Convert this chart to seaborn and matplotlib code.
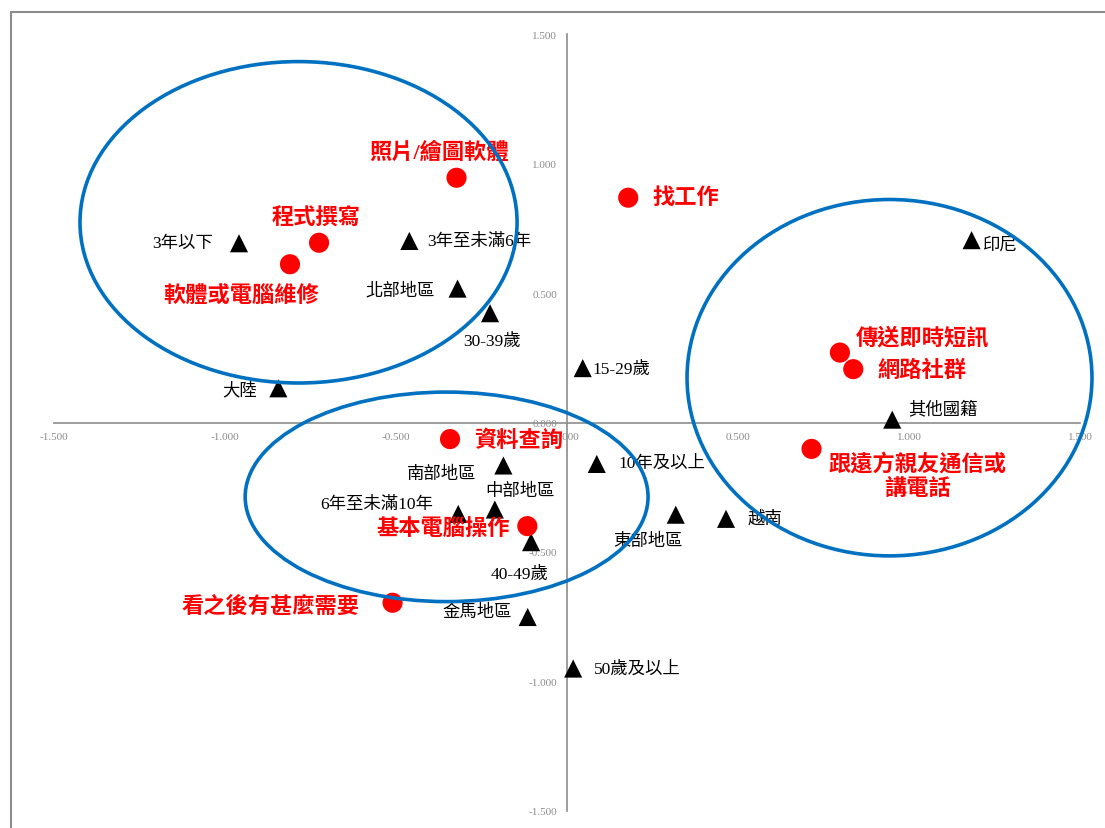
import matplotlib
matplotlib.use("Agg")
import pandas as pd
import matplotlib.pyplot as plt
from matplotlib.patches import Ellipse
from matplotlib.lines import Line2D
import seaborn as sns

# ==========================
# Data
# ==========================

# activities (red circles)
act_names = ["照片/繪圖軟體", "程式撰寫", "軟體或電腦維修", "找工作", "傳送即時短訊",
             "網路社群", "跟遠方親友通信或\n講電話", "資料查詢", "基本電腦操作", "看之後有甚麼需要"]
act_x = [-0.323, -0.725, -0.810, 0.179, 0.798, 0.837, 0.715, -0.342, -0.116, -0.510]
act_y = [0.945, 0.694, 0.611, 0.868, 0.270, 0.206, -0.102, -0.064, -0.400, -0.696]

# respondent groups (black triangles)
grp_names = ["3年以下", "3年至未滿6年", "北部地區", "30-39歲", "大陸", "15-29歲", "印尼",
             "其他國籍", "10年及以上", "東部地區", "越南", "南部地區", "中部地區",
             "6年至未滿10年", "40-49歲", "金馬地區", "50歲及以上"]
grp_x = [-0.959, -0.461, -0.320, -0.225, -0.844, 0.046, 1.183, 0.951, 0.087, 0.318,
         0.465, -0.186, -0.211, -0.318, -0.105, -0.115, 0.018]
grp_y = [0.692, 0.701, 0.517, 0.422, 0.132, 0.210, 0.704, 0.011, -0.160, -0.356,
         -0.372, -0.166, -0.336, -0.353, -0.462, -0.751, -0.950]

ticks = [-1.5, -1.0, -0.5, 0.0, 0.5, 1.0, 1.5]

# label placement: (dx px, dy px down, ha)
act_pos = [(-17, -26, "center"), (-3, -25, "center"), (-49, 32, "center"), (24, 0, "left"),
           (16, -15, "left"), (24, 1, "left"), (106, 27, "center"), (24, 1, "left"),
           (-17, 3, "right"), (-33, 3, "right")]
grp_pos = [(-26, 0, "right"), (18, 0, "left"), (-23, 2, "right"), (2, 28, "center"),
           (-21, 2, "right"), (10, 1, "left"), (10, 4, "left"), (16, -11, "left"),
           (22, -1, "left"), (-28, 26, "center"), (22, 0, "left"), (-27, 8, "right"),
           (-10, -19, "left"), (-25, -10, "right"), (-12, 32, "center"), (-16, -5, "right"),
           (21, 0, "left")]

# cluster ellipses: (cx, cy, width, height)
clusters = [(-0.785, 0.773, 1.278, 1.241),
            (-0.352, -0.287, 1.178, 0.809),
            (0.943, 0.173, 1.184, 1.376)]

act_df = pd.DataFrame({"x": act_x, "y": act_y, "name": act_names})
grp_df = pd.DataFrame({"x": grp_x, "y": grp_y, "name": grp_names})

# ==========================
# Plot
# ==========================

sns.set_style("white")
plt.rcParams["font.family"] = ["Liberation Serif", "Noto Sans CJK TC", "DejaVu Sans"]

fig = plt.figure(figsize=(11.05, 8.29), dpi=100)
ax = fig.add_axes([54 / 1105, 17 / 829, 1026 / 1105, 777 / 829])

sns.scatterplot(data=grp_df, x="x", y="y", marker="^", s=170, color="black",
                edgecolor="none", ax=ax, zorder=3)
sns.scatterplot(data=act_df, x="x", y="y", marker="o", s=210, color="#ff0000",
                edgecolor="none", ax=ax, zorder=3)

for (name, x, y), (dx, dy, ha) in zip(act_df[["name", "x", "y"]].values, act_pos):
    ax.annotate(name, (x, y), xytext=(dx, -dy), textcoords="offset pixels",
                ha=ha, va="center", multialignment="center", color="#ff0000",
                fontsize=16, fontweight="bold", linespacing=1.25, zorder=4)

for (name, x, y), (dx, dy, ha) in zip(grp_df[["name", "x", "y"]].values, grp_pos):
    ax.annotate(name, (x, y), xytext=(dx, -dy), textcoords="offset pixels",
                ha=ha, va="center", color="black", fontsize=12.5, zorder=4)

for cx, cy, w, h in clusters:
    ax.add_patch(Ellipse((cx, cy), w, h, fill=False, edgecolor="#0070c0",
                         linewidth=2.6, clip_on=False, zorder=5))

ax.set_xlim(-1.5, 1.5)
ax.set_ylim(-1.5, 1.5)
ax.set_xticks(ticks)
ax.set_yticks(ticks)
ax.set_xticklabels([f"{t:.3f}" for t in ticks])
ax.set_yticklabels([f"{t:.3f}" for t in ticks])
ax.set_xlabel("")
ax.set_ylabel("")

for side in ["top", "right"]:
    ax.spines[side].set_visible(False)
for side in ["left", "bottom"]:
    ax.spines[side].set_position(("data", 0))
    ax.spines[side].set_color("#8c8c8c")
    ax.spines[side].set_linewidth(1.2)

ax.tick_params(axis="both", direction="out", length=4, width=1, color="#8c8c8c",
               labelcolor="#8c8c8c", labelsize=8, pad=3)
ax.patch.set_alpha(0)

# chart area border (top and left edges visible)
fig.add_artist(Line2D([11 / 1105, 1], [1 - 13 / 829, 1 - 13 / 829], color="#8c8c8c", linewidth=1.5))
fig.add_artist(Line2D([11 / 1105, 11 / 1105], [0, 1 - 13 / 829], color="#8c8c8c", linewidth=1.5))

plt.savefig("out.png", dpi=100)
plt.close()
